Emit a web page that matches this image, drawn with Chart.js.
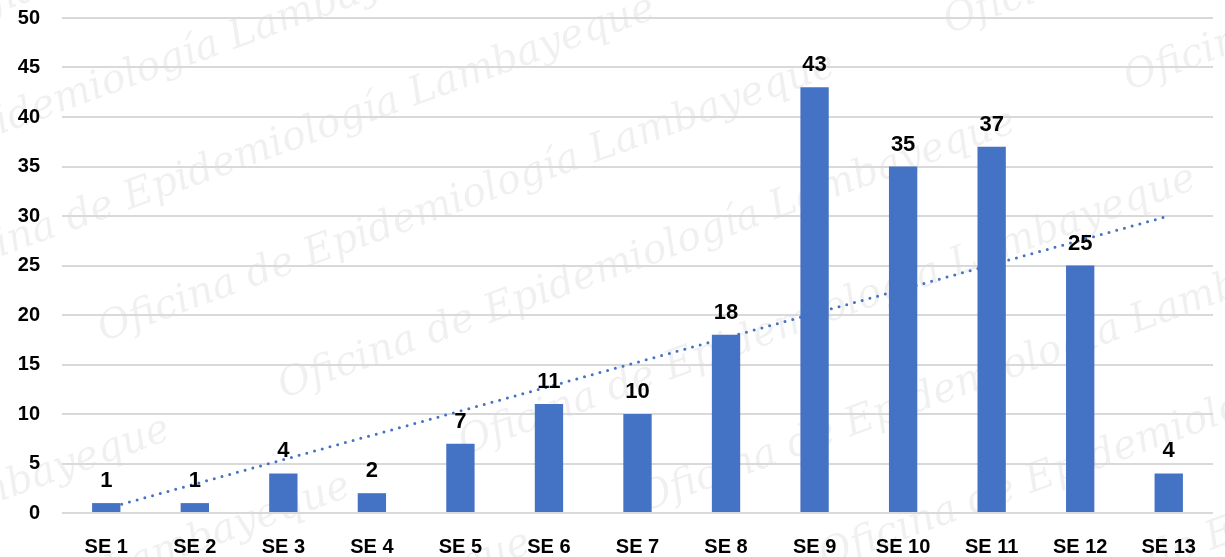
<!DOCTYPE html>
<html>
<head>
<meta charset="utf-8">
<script src="https://cdn.jsdelivr.net/npm/chart.js@4/dist/chart.umd.min.js"></script>
<style>
  html, body { margin: 0; padding: 0; background: #fff; }
  #wrap { width: 1225px; height: 557px; }
</style>
</head>
<body>
<div id="wrap"><canvas id="myChart"></canvas></div>
<script>
const weeks = ['SE 1','SE 2','SE 3','SE 4','SE 5','SE 6','SE 7','SE 8','SE 9','SE 10','SE 11','SE 12','SE 13'];
const cases = [1, 1, 4, 2, 7, 11, 10, 18, 43, 35, 37, 25, 4];
const yTicks = [0, 5, 10, 15, 20, 25, 30, 35, 40, 45, 50];
const watermark = 'Oficina de Epidemiología Lambayeque';

// linear trend line (least squares, like the spreadsheet trendline)
function trend(vals){
    const n = vals.length;
    let sx = 0, sy = 0, sxy = 0, sxx = 0;
    vals.forEach(function(v, i){
        const x = i + 1;
        sx += x; sy += v; sxy += x * v; sxx += x * x;
    });
    const b = (n * sxy - sx * sy) / (n * sxx - sx * sx);
    const a = (sy - b * sx) / n;
    return vals.map(function(v, i){ return a + b * (i + 1); });
}

const FONT = "'Liberation Sans Narrow', 'Arial Narrow', 'Liberation Sans', Arial, sans-serif";
const blue = '#4472C4';

const bgPlugin = {
    id: 'bg',
    beforeDraw(chart){
        const ctx = chart.ctx;
        ctx.save();
        ctx.fillStyle = '#fff';
        ctx.fillRect(0, 0, chart.width, chart.height);
        // faint watermark
        ctx.fillStyle = 'rgba(0,0,0,0.06)';
        ctx.font = "italic 40px 'DejaVu Serif', serif";
        ctx.translate(chart.width / 2, chart.height / 2);
        ctx.rotate(-20 * Math.PI / 180);
        for (let r = -5; r <= 5; r++) {
            for (let c = -2; c <= 2; c++) {
                ctx.fillText(watermark, c * 900 + r * 150 - 350, r * 115);
            }
        }
        ctx.restore();
    }
};

const labelPlugin = {
    id: 'barLabels',
    afterDatasetsDraw(chart){
        const ctx = chart.ctx;
        const meta = chart.getDatasetMeta(0);
        ctx.save();
        ctx.fillStyle = '#000';
        ctx.font = 'bold 22px ' + FONT;
        ctx.textAlign = 'center';
        ctx.textBaseline = 'alphabetic';
        meta.data.forEach(function(bar, i){
            ctx.fillText(String(cases[i]), bar.x, bar.y - 16);
        });
        ctx.restore();
    }
};

new Chart(document.getElementById('myChart'), {
    type: 'bar',
    data: {
        labels: weeks,
        datasets: [
            {
                type: 'bar',
                data: cases,
                backgroundColor: blue,
                borderWidth: 0,
                categoryPercentage: 1,
                barPercentage: 0.32,
                order: 2
            },
            {
                type: 'line',
                data: trend(cases),
                borderColor: blue,
                borderWidth: 3,
                borderDash: [0, 8],
                borderCapStyle: 'round',
                pointRadius: 0,
                fill: false,
                order: 1
            }
        ]
    },
    options: {
        responsive: true,
        maintainAspectRatio: false,
        animation: false,
        layout: { padding: { top: 0, right: 12, left: 0, bottom: 0 } },
        plugins: {
            legend: { display: false },
            tooltip: { enabled: false }
        },
        scales: {
            x: {
                grid: { display: false },
                border: { display: false },
                ticks: {
                    color: '#000',
                    font: { family: FONT, size: 20, weight: 'bold' },
                    padding: 14,
                    maxRotation: 0
                },
                afterFit: function(s){ s.height = 44; }
            },
            y: {
                min: 0,
                max: 50,
                afterBuildTicks: function(s){ s.ticks = yTicks.map(function(v){ return { value: v }; }); },
                grid: { color: '#d9d9d9', lineWidth: 2, drawTicks: false },
                border: { display: false },
                ticks: {
                    color: '#000',
                    font: { family: FONT, size: 20, weight: 'bold' },
                    padding: 22
                },
                afterFit: function(s){
                    s.width = 62;
                    s.paddingTop = 18;
                    s.paddingBottom = 0;
                }
            }
        }
    },
    plugins: [bgPlugin, labelPlugin]
});
</script>
</body>
</html>
